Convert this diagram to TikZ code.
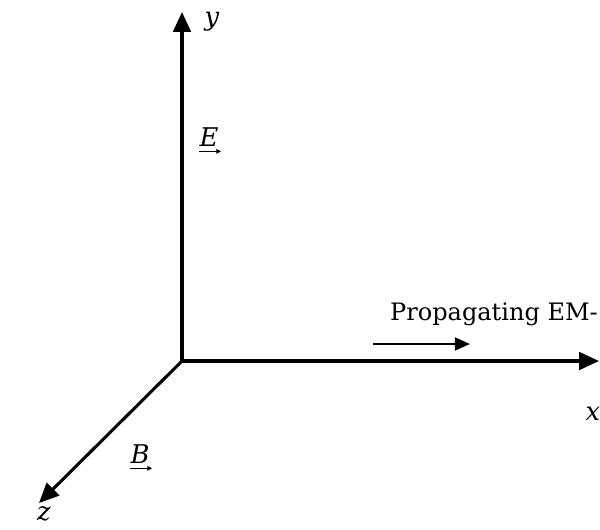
\documentclass[tikz,border=0pt]{standalone}
\usepackage{fontspec}
\setmainfont{DejaVu Serif}
\usetikzlibrary{arrows.meta,positioning}

\begin{document}
\begin{tikzpicture}[x=0.03cm,y=-0.03cm,font=\fontsize{20.5}{24}\selectfont,
  axis/.style={line width=2.6pt,-{Triangle[length=17pt,width=15pt]}},
  wave/.style={line width=2pt,-{Triangle[length=13pt,width=11pt]}},
  vecbar/.style={line width=1.2pt,-{Triangle[length=4pt,width=4pt]}},
  lbl/.style={inner sep=0pt},
  var/.style={lbl,font=\fontsize{22}{26}\selectfont\itshape}]
\useasboundingbox (0,0) rectangle (600,529);
% axes
\coordinate (o) at (182,361);
\coordinate (ytip) at (182,12);
\coordinate (xtip) at (599,361);
\coordinate (ztip) at (39,503);
\draw[axis] (o) -- (ytip);
\draw[axis] (o) -- (xtip);
\draw[axis] (o) -- (ztip);
% axis labels
\node[var] (ylab) at (212,22) {y};
\node[var] (xlab) at (593,414) {x};
\node[var] (zlab) at (44,514) {z};
% field vectors
\node[var] (elab) at (209,137) {E};
\draw[vecbar] ([yshift=-4pt]elab.south west) -- ([yshift=-4pt,xshift=2pt]elab.south east);
\node[var] (blab) at (140,454) {B};
\draw[vecbar] ([yshift=-4pt]blab.south west) -- ([yshift=-4pt,xshift=2pt]blab.south east);
% propagation direction
\node[lbl] (prop) at (494,314) {Propagating EM-};
\coordinate (ws) at (373,344);
\coordinate (we) at (470,344);
\draw[wave] (ws) -- (we);
\end{tikzpicture}
\end{document}
